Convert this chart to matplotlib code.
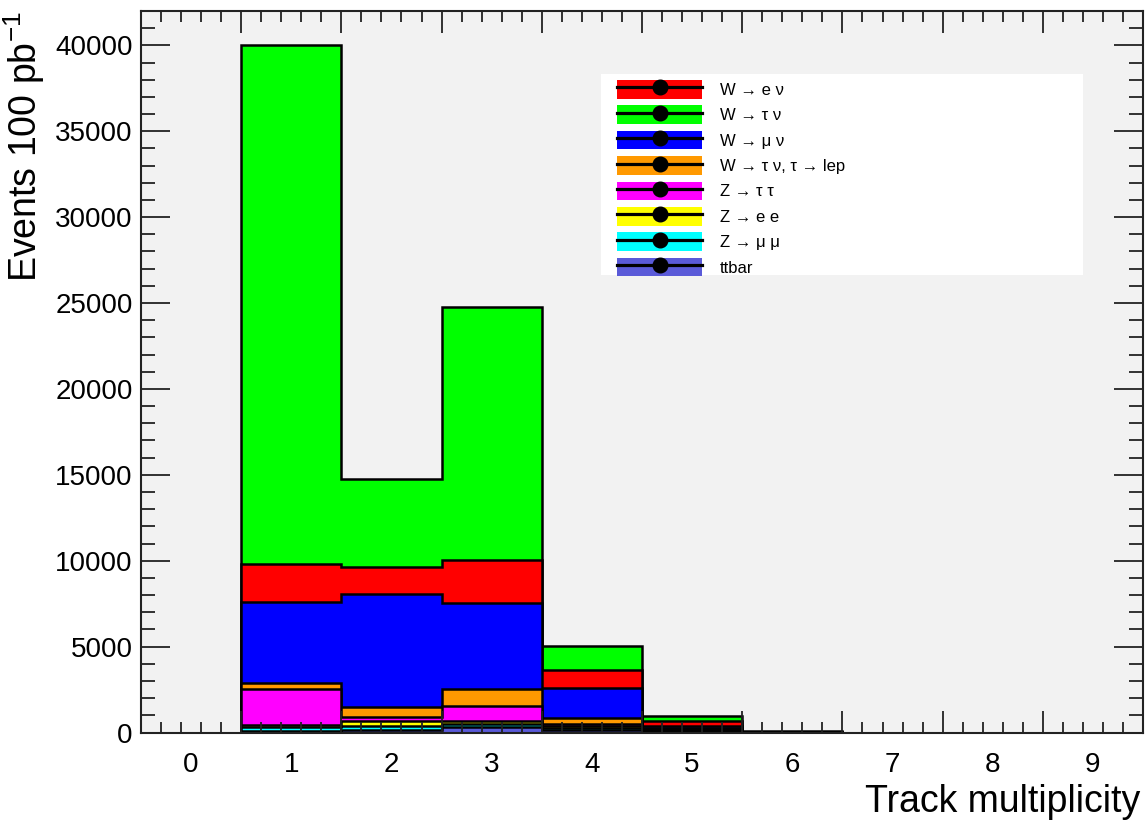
import numpy as np
import matplotlib
matplotlib.use("Agg")
import matplotlib.pyplot as plt
from matplotlib.patches import Patch, Rectangle
from matplotlib.lines import Line2D
from matplotlib.legend_handler import HandlerTuple

plt.rcParams['font.family'] = ['Liberation Sans', 'DejaVu Sans']
plt.rcParams['mathtext.fontset'] = 'custom'
plt.rcParams['mathtext.rm'] = 'Liberation Sans'

# track multiplicity bins 0..9
bins = np.arange(10)
edges = np.arange(-0.5, 10.5, 1.0)

# stacked samples, bottom -> top
ttbar   = [0, 110, 150, 330, 120, 50, 5, 0, 0, 0]
z_mumu  = [0, 230, 250, 150, 120, 50, 5, 0, 0, 0]
z_ee    = [0, 120, 300, 180, 130, 60, 5, 0, 0, 0]
z_tautau = [0, 2100, 190, 910, 130, 70, 5, 0, 0, 0]
w_taulep = [0, 340, 585, 990, 350, 60, 5, 0, 0, 0]
w_munu  = [0, 4670, 6560, 4990, 1750, 80, 10, 0, 0, 0]
w_enu   = [0, 2230, 1615, 2520, 1030, 290, 10, 0, 0, 0]
w_taunu = [0, 30200, 5100, 14680, 1400, 330, 20, 0, 0, 0]

samples = [ttbar, z_mumu, z_ee, z_tautau, w_taulep, w_munu, w_enu, w_taunu]
names = ["ttbar", "Z \u2192 \u03bc \u03bc", "Z \u2192 e e", "Z \u2192 \u03c4 \u03c4",
         "W \u2192 \u03c4 \u03bd, \u03c4 \u2192 lep", "W \u2192 \u03bc \u03bd",
         "W \u2192 e \u03bd", "W \u2192 \u03c4 \u03bd"]
colors = ["#5a5ad8", "#00ffff", "#ffff00", "#ff00ff", "#ff9900", "#0000ff",
          "#ff0000", "#00ff00"]

# legend order as in the original
legend_order = [6, 7, 5, 4, 3, 2, 1, 0]

fig = plt.figure(figsize=(11.45, 8.24), dpi=100)
ax = fig.add_axes([0.1231, 0.111, 0.8752, 0.8757])
ax.set_facecolor('#f2f2f2')

cum = np.cumsum(np.array(samples, dtype=float), axis=0)
# draw like a THStack: top layer first, each filled from zero
for i in range(len(samples) - 1, -1, -1):
    ax.stairs(cum[i], edges, baseline=0, fill=True, facecolor=colors[i],
              edgecolor='black', linewidth=1.8)

ax.set_xlim(-0.5, 9.5)
ax.set_ylim(0, 42000)

# ticks, ROOT style
ax.set_xticks(np.arange(-0.5, 10, 1.0))
ax.set_xticks(np.arange(-0.5, 9.6, 0.2), minor=True)
ax.set_yticks(np.arange(0, 40001, 5000))
ax.set_yticks(np.arange(0, 42001, 1000), minor=True)
ax.tick_params(axis='x', which='both', direction='in', top=True, bottom=True,
               labelbottom=False, color='#222222', width=1.3)
ax.tick_params(axis='x', which='major', length=16)
ax.tick_params(axis='x', which='minor', length=8)
ax.tick_params(axis='y', which='both', direction='in', left=True, right=True,
               color='#222222', width=1.3, labelsize=20, pad=6)
ax.tick_params(axis='y', which='major', length=21)
ax.tick_params(axis='y', which='minor', length=10)
for s in ax.spines.values():
    s.set_linewidth(1.5)
    s.set_color('#222222')

# bin labels at the bin centres
sec = ax.secondary_xaxis('bottom')
sec.set_xticks(bins, labels=[str(b) for b in bins])
sec.tick_params(length=0, labelsize=20, pad=14)
sec.spines['bottom'].set_visible(False)

ax.set_ylabel("Events 100 pb$^{-1}$", fontsize=27, loc='top')
ax.yaxis.set_label_coords(-0.094, 1.0)
ax.set_xlabel("Track multiplicity", fontsize=27, loc='right')
ax.xaxis.set_label_coords(0.997, -0.072)

# white legend box
fig.patches.append(Rectangle((0.5249, 0.6662), 0.421, 0.244,
                             transform=fig.transFigure, facecolor='white',
                             edgecolor='none', zorder=1))

handles = [(Patch(facecolor=colors[i], edgecolor='none'),
            Line2D([], [], color='black', lw=2.3, marker='o', ms=10.5))
           for i in legend_order]
labels = [names[i] for i in legend_order]
leg = fig.legend(handles, labels, handler_map={tuple: HandlerTuple(ndivide=1)},
                 loc='upper left', bbox_to_anchor=(0.5389, 0.9029),
                 bbox_transform=fig.transFigure, borderaxespad=0, borderpad=0,
                 prop={'size': 12}, handlelength=5.1, handleheight=1.35,
                 labelspacing=0.40, handletextpad=1.08,
                 numpoints=1, frameon=False)
leg.set_zorder(5)

fig.savefig("out.png", dpi=100)
